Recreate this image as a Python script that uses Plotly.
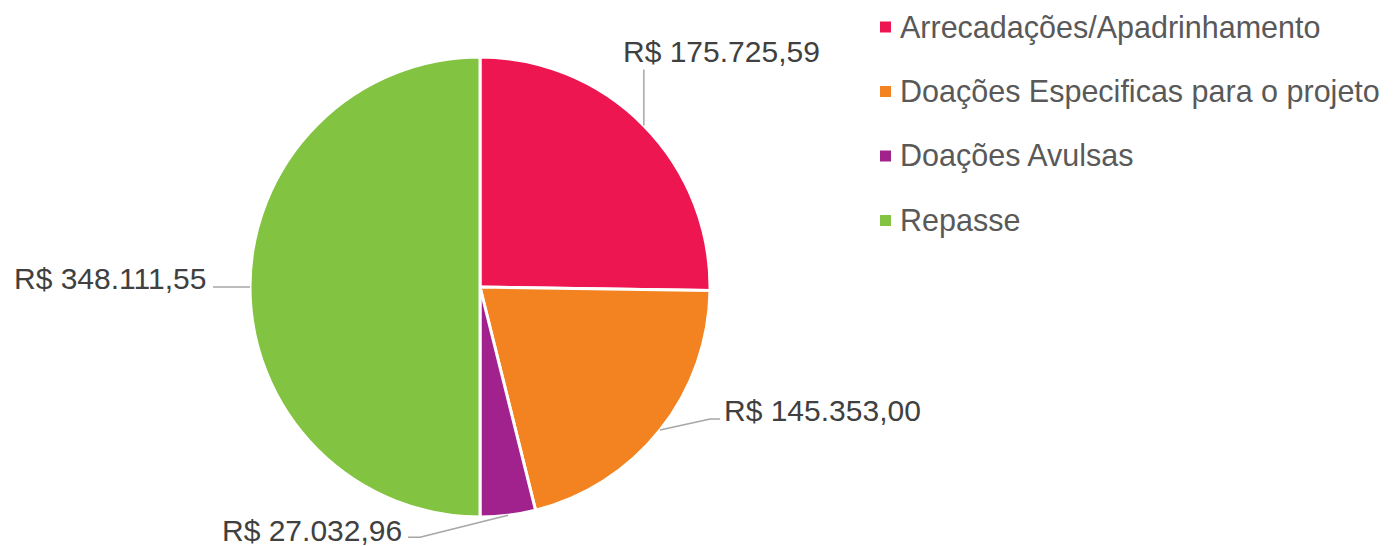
import math
import plotly.graph_objects as go

# ---- data ----
categories = ["Arrecadações/Apadrinhamento", "Doações Especificas para o projeto",
              "Doações Avulsas", "Repasse"]
values = [175725.59, 145353.00, 27032.96, 348111.55]
colors = ["#EE1651", "#F38321", "#A1228D", "#82C341"]

W, H = 1398, 547
CX, CY, R = 480, 287, 230  # pie centre / radius in pixels


def fmt_brl(v):
    s = f"{v:,.2f}"
    s = s.replace(",", "X").replace(".", ",").replace("X", ".")
    return "R$ " + s


def P(x, y):
    return x / W, 1 - y / H


# label layout: leader-line bend points (offsets from slice edge mid-point) and text placement
label_style = [
    dict(path=[(0, -56)], text=(-23, -74), xanchor="left"),
    dict(path=[(50, -11), (60, -11)], text=(62, -19), xanchor="left"),
    dict(path=[(-88, 22), (-100, 22)], text=(-104, 15), xanchor="right"),
    dict(path=[(-37, 0)], text=(-42, -9), xanchor="right"),
]

fig = go.Figure()
fig.add_trace(go.Pie(
    labels=categories, values=values, sort=False, direction="clockwise", rotation=0,
    marker=dict(colors=colors, line=dict(color="white", width=3)),
    textinfo="none", hoverinfo="label+value+percent", showlegend=False,
    domain=dict(x=[(CX - R) / W, (CX + R) / W], y=[1 - (CY + R) / H, 1 - (CY - R) / H]),
))

total = sum(values)
cum = 0.0
shapes, annotations = [], []
for v, st in zip(values, label_style):
    mid = (cum + v / 2) / total * 2 * math.pi
    cum += v
    ax = CX + R * math.sin(mid)
    ay = CY - R * math.cos(mid)
    pts = [(ax, ay)] + [(ax + dx, ay + dy) for dx, dy in st["path"]]
    d = "M " + " L ".join(f"{P(x, y)[0]},{P(x, y)[1]}" for x, y in pts)
    shapes.append(dict(type="path", path=d, xref="paper", yref="paper",
                       line=dict(color="#A6A6A6", width=1.5)))
    tx, ty = P(ax + st["text"][0], ay + st["text"][1])
    annotations.append(dict(x=tx, y=ty, xref="paper", yref="paper", text=fmt_brl(v),
                            showarrow=False, xanchor=st["xanchor"], yanchor="middle",
                            font=dict(size=30, color="#404040", family="Liberation Sans, Arial")))

# manual legend
for i, (c, name) in enumerate(zip(colors, categories)):
    yc = 27 + i * 64.5
    x0, y0 = P(880, yc - 5.5)
    x1, y1 = P(891, yc + 5.5)
    shapes.append(dict(type="rect", xref="paper", yref="paper", x0=x0, x1=x1, y0=y0, y1=y1,
                       fillcolor=c, line=dict(width=0)))
    tx, ty = P(898, yc)
    annotations.append(dict(x=tx, y=ty, xref="paper", yref="paper", text=name,
                            showarrow=False, xanchor="left", yanchor="middle",
                            font=dict(size=30.5, color="#595959", family="Liberation Sans, Arial")))

fig.update_layout(
    width=W, height=H, margin=dict(l=0, r=0, t=0, b=0),
    paper_bgcolor="white", plot_bgcolor="white",
    shapes=shapes, annotations=annotations,
)
fig.write_html("out.html", config={"displayModeBar": False},
               post_script="document.body.style.margin='0';document.body.style.overflow='hidden';")
